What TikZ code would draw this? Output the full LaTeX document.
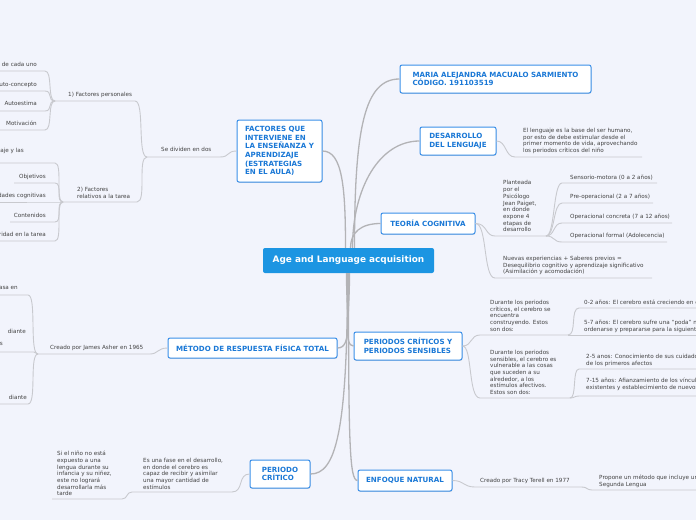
\documentclass[tikz,border=0pt]{standalone}
\usepackage{fontspec}
\setmainfont{DejaVu Sans}
\usetikzlibrary{shadows}
\definecolor{bg}{HTML}{F2F4FC}
\definecolor{boxblue}{HTML}{3A8FE8}
\definecolor{titleblue}{HTML}{1A78D6}
\definecolor{centerblue}{HTML}{1C95E2}
\definecolor{txt}{HTML}{434343}
\definecolor{mainline}{HTML}{B3B3B6}
\definecolor{subline}{HTML}{C8C9CE}
\tikzset{
  topic/.style={draw=boxblue, line width=1pt, fill=white, rounded corners=2pt, text=titleblue,
    font=\fontsize{7.1}{8.6}\selectfont\bfseries, align=left, inner sep=0pt,
    drop shadow={shadow xshift=0.3pt, shadow yshift=-0.9pt, opacity=0.25}},
  central/.style={fill=centerblue, rounded corners=2pt, text=white,
    font=\fontsize{8.9}{10}\selectfont\bfseries, inner sep=0pt},
  st/.style={text=txt, font=\fontsize{5.65}{6.67}\selectfont, align=left, inner sep=0pt},
  mainc/.style={draw=mainline, line width=1.3pt},
  subc/.style={draw=subline, line width=0.9pt},
}
\begin{document}
\begin{tikzpicture}[x=1pt, y=-1pt]
\useasboundingbox (0,0) rectangle (696,520);
\fill[bg] (0,0) rectangle (696,520);
\clip (0,0) rectangle (696,520);

% ---------- topics ----------
\node[central, minimum width=171pt, minimum height=25pt] (center) at (348.5,260.5) {Age and Language acquisition};
\node[topic, minimum width=191pt, minimum height=28pt] (maria) at (495.5,79) {MARIA ALEJANDRA MACUALO SARMIENTO\\CÓDIGO. 191103519};
\node[topic, minimum width=76pt, minimum height=28pt] (desarrollo) at (458,141) {DESARROLLO\\DEL LENGUAJE};
\node[topic, minimum width=94pt, minimum height=21pt] (teoria) at (428,223.5) {TEORÍA COGNITIVA};
\node[topic, minimum width=85pt, minimum height=62pt] (factores) at (279.5,151) {FACTORES QUE\\INTERVIENE EN\\LA ENSEÑANZA Y\\APRENDIZAJE\\(ESTRATEGIAS\\EN EL AULA)};
\node[topic, minimum width=169pt, minimum height=20pt] (metodo) at (252.5,348) {MÉTODO DE RESPUESTA FÍSICA TOTAL};
\node[topic, minimum width=108pt, minimum height=28pt] (periodos) at (408,346) {PERIODOS CRÍTICOS Y\\PERIODOS SENSIBLES};
\node[topic, minimum width=60pt, minimum height=28pt] (critico) at (280,474) {PERIODO\\CRÍTICO};
\node[topic, minimum width=94pt, minimum height=21pt] (enfoque) at (405,480.5) {ENFOQUE NATURAL};

% ---------- main connectors ----------
\draw[mainc] ([xshift=6pt]center.north) .. controls +(0,-120) and +(-35,0) .. (maria.west);
\draw[mainc] ([xshift=4pt]center.north) .. controls +(0,-60) and +(-40,0) .. (desarrollo.west);
\draw[mainc] ([xshift=2pt]center.north) .. controls +(0,-15) and +(-20,0) .. (teoria.west);
\draw[mainc] ([xshift=-3pt]center.north) .. controls +(0,-60) and +(20,0) .. (factores.east);
\draw[mainc] ([xshift=-2pt]center.south) .. controls +(0,45) and +(15,0) .. (metodo.east);
\draw[mainc] ([xshift=1pt]center.south) .. controls +(0,45) and +(-10,0) .. (periodos.west);
\draw[mainc] ([xshift=-1pt]center.south) .. controls +(0,160) and +(25,0) .. (critico.east);
\draw[mainc] (center.south) .. controls +(0,170) and +(-8,0) .. (enfoque.west);

% ---------- DESARROLLO ----------
\coordinate (dl1) at (515,157); \coordinate (dl1e) at (642,157);
\draw[subc] (desarrollo.east) .. controls +(10,0) and +(-10,0) .. (dl1) -- (dl1e);
\node[st, anchor=north west] (dltext) at (523,128) {El lenguaje es la base del ser humano,\\por esto de debe estimular desde el\\primer momento de vida, aprovechando\\los periodos críticos del niño};

% ---------- TEORIA ----------
\coordinate (tc1) at (495,236); \coordinate (tc1e) at (546,236);
\coordinate (tc2) at (495,278); \coordinate (tc2e) at (652,278);
\draw[subc] (teoria.east) .. controls +(12,0) and +(-10,0) .. (tc1) -- (tc1e);
\draw[subc] (teoria.east) .. controls +(12,0) and +(-12,0) .. (tc2) -- (tc2e);
\node[st, anchor=north west] (tt1) at (503,180.5) {Planteada\\por el\\Psicólogo\\Jean Paiget,\\en donde\\expone 4\\etapas de\\desarrollo};
\node[st, anchor=north west] (tt2) at (503,256) {Nuevas experiencias + Saberes previos =\\Desequilibrio cognitivo y aprendizaje significativo\\(Asimilación y acomodación)};
\coordinate (ts1) at (562,183); \coordinate (ts1e) at (657,183);
\coordinate (ts2) at (562,203); \coordinate (ts2e) at (653,203);
\coordinate (ts3) at (562,223); \coordinate (ts3e) at (672,223);
\coordinate (ts4) at (562,242); \coordinate (ts4e) at (667,242);
\foreach \i in {1,2,3,4}{
  \draw[subc] (tc1e) .. controls +(9,0) and +(-9,0) .. (ts\i) -- (ts\i e);
}
\node[st, anchor=north west] (tg1) at (570,175) {Sensorio-motora (0 a 2 años)};
\node[st, anchor=north west] (tg2) at (570,194) {Pre-operacional (2 a 7 años)};
\node[st, anchor=north west] (tg3) at (570,214) {Operacional concreta (7 a 12 años)};
\node[st, anchor=north west] (tg4) at (570,233) {Operacional formal (Adolecencia)};

% ---------- PERIODOS ----------
\coordinate (pc1) at (480,335); \coordinate (pc1e) at (568,335);
\coordinate (pc2) at (480,398); \coordinate (pc2e) at (570,398);
\draw[subc] (periodos.east) .. controls +(10,0) and +(-10,0) .. (pc1) -- (pc1e);
\draw[subc] (periodos.east) .. controls +(10,0) and +(-12,0) .. (pc2) -- (pc2e);
\node[st, anchor=north west] (pt1) at (490,300) {Durante los periodos\\críticos, el cerebro se\\encuentra\\construyendo. Estos\\son dos:};
\node[st, anchor=north west] (pt2) at (490,350) {Durante los periodos\\sensibles, el cerebro es\\vulnerable a las cosas\\que suceden a su\\alrededor, a los\\estímulos afectivos.\\Estos son dos:};
\coordinate (pg1) at (579,308); \coordinate (pg1e) at (700,308);
\coordinate (pg2e) at (700,335);
\coordinate (pg3) at (579,369); \coordinate (pg3e) at (700,369);
\coordinate (pg4) at (579,396); \coordinate (pg4e) at (700,396);
\draw[subc] (pc1e) .. controls +(9,0) and +(-9,0) .. (pg1) -- (pg1e);
\draw[subc] (pc1e) -- (pg2e);
\draw[subc] (pc2e) .. controls +(7,0) and +(-7,0) .. (pg3) -- (pg3e);
\draw[subc] (pc2e) .. controls +(5,0) and +(-5,0) .. (pg4) -- (pg4e);
\node[st, anchor=north west] (pgt1) at (584,300) {0-2 años: El cerebro está creciendo en c};
\node[st, anchor=north west] (pgt2) at (584,320) {5-7 años: El cerebro sufre una “poda” ne\\ordenarse y prepararse para la siguiente};
\node[st, anchor=north west] (pgt3) at (586,354) {2-5 anos: Conocimiento de sus cuidador\\de los primeros afectos};
\node[st, anchor=north west] (pgt4) at (586,378) {7-15 años: Afianzamiento de los vínculo\\existentes y establecimiento de nuevos.};

% ---------- METODO ----------
\coordinate (mc1) at (150,354); \coordinate (mc1e) at (38,354);
\draw[subc] (metodo.west) .. controls +(-10,0) and +(8,0) .. (mc1) -- (mc1e);
\node[st, anchor=north west] (mt1) at (50,345) {Creado por James Asher en 1965};
\coordinate (ml1) at (28,295); \coordinate (ml1e) at (-2,295);
\coordinate (ml2) at (34,352); \coordinate (ml2e) at (-2,352);
\coordinate (ml3) at (28,404); \coordinate (ml3e) at (-2,404);
\draw[subc] (mc1e) .. controls +(-9,0) and +(9,0) .. (ml1) -- (ml1e);
\draw[subc] (mc1e) .. controls +(-2,0) and +(2,0) .. (ml2) -- (ml2e);
\draw[subc] (mc1e) .. controls +(-9,0) and +(9,0) .. (ml3) -- (ml3e);
\node[st, anchor=north east] (mlt1) at (18,286) {asa en};
\node[st, anchor=north east] (mlt2) at (26,329) {diante};
\node[st, anchor=north east] (mlt2b) at (3,342) {s};
\node[st, anchor=north east] (mlt3) at (27,395) {diante};

% ---------- FACTORES ----------
\coordinate (fc1) at (220,157); \coordinate (fc1e) at (147,157);
\draw[subc] (factores.west) .. controls +(-10,0) and +(10,0) .. (fc1) -- (fc1e);
\node[st, anchor=north west] (ft1) at (161,147) {Se dividen en dos};
\coordinate (fp1) at (135,101); \coordinate (fp1e) at (55,101);
\coordinate (fp2) at (137,202); \coordinate (fp2e) at (63,202);
\draw[subc] (fc1e) .. controls +(-10,0) and +(10,0) .. (fp1) -- (fp1e);
\draw[subc] (fc1e) .. controls +(-10,0) and +(10,0) .. (fp2) -- (fp2e);
\node[st, anchor=north west] (fpt1) at (68,92) {1) Factores personales};
\node[st, anchor=north west] (fpt2) at (77,187) {2) Factores\\relativos a la tarea};
\coordinate (f11) at (45,71);  \coordinate (f11e) at (-2,71);
\coordinate (f12) at (45,91);  \coordinate (f12e) at (-2,91);
\coordinate (f13) at (45,111); \coordinate (f13e) at (-2,111);
\coordinate (f14) at (45,130); \coordinate (f14e) at (-2,130);
\foreach \i in {1,2,3,4}{
  \draw[subc] (fp1e) .. controls +(-8,0) and +(8,0) .. (f1\i) -- (f1\i e);
}
\node[st, anchor=north east] (f11t) at (37,62) {de cada uno};
\node[st, anchor=north east] (f12t) at (37,82) {Auto-concepto};
\node[st, anchor=north east] (f13t) at (37,101) {Autoestima};
\node[st, anchor=north east] (f14t) at (37,121) {Motivación};
\coordinate (f21) at (55,163); \coordinate (f21e) at (-2,163);
\coordinate (f22) at (55,183); \coordinate (f22e) at (14,183);
\coordinate (f23) at (55,202); \coordinate (f23e) at (-2,202);
\coordinate (f24) at (55,222); \coordinate (f24e) at (10,222);
\coordinate (f25) at (55,241); \coordinate (f25e) at (-2,241);
\foreach \i in {1,2,3,4,5}{
  \draw[subc] (fp2e) .. controls +(-8,0) and +(8,0) .. (f2\i) -- (f2\i e);
}
\node[st, anchor=north east] (f21t) at (24,148) {zaje y las};
\node[st, anchor=north east] (f22t) at (46,174) {Objetivos};
\node[st, anchor=north east] (f23t) at (46,193) {dades cognitivas};
\node[st, anchor=north east] (f24t) at (46,213) {Contenidos};
\node[st, anchor=north east] (f25t) at (46,232) {ridad en la tarea};

% ---------- PERIODO CRITICO ----------
\coordinate (cc1) at (232,492); \coordinate (cc1e) at (132,492);
\draw[subc] (critico.west) .. controls +(-12,0) and +(12,0) .. (cc1) -- (cc1e);
\node[st, anchor=north west] (ct1) at (143,458) {Es una fase en el desarrollo,\\en donde el cerebro es\\capaz de recibir y asimilar\\una mayor cantidad de\\estímulos};
\coordinate (cc2) at (122,499); \coordinate (cc2e) at (52,499);
\draw[subc] (cc1e) .. controls +(-6,0) and +(6,0) .. (cc2) -- (cc2e);
\node[st, anchor=north west] (ct2) at (57,451) {Si el niño no está\\expuesto a una\\lengua durante su\\infancia y su niñez,\\este no logrará\\desarrollarla más\\tarde};

% ---------- ENFOQUE ----------
\coordinate (ec1) at (475,487); \coordinate (ec1e) at (582,487);
\draw[subc] (enfoque.east) .. controls +(12,0) and +(-12,0) .. (ec1) -- (ec1e);
\node[st, anchor=north west] (et1) at (480,478) {Creado por Tracy Terell en 1977};
\coordinate (ec2) at (592,490); \coordinate (ec2e) at (700,490);
\draw[subc] (ec1e) .. controls +(5,0) and +(-5,0) .. (ec2) -- (ec2e);
\node[st, anchor=north west] (et2) at (599,475) {Propone un método que incluye un\\Segunda Lengua};
\end{tikzpicture}
\end{document}
